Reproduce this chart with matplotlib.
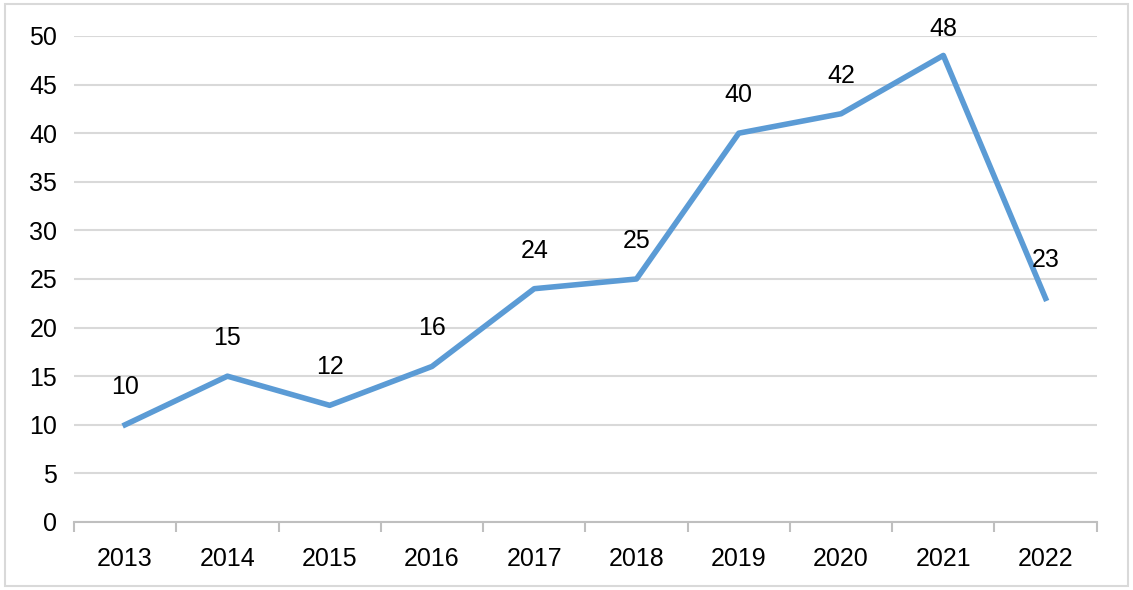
import matplotlib.pyplot as plt
from matplotlib.patches import Rectangle
import numpy as np

years = ["2013", "2014", "2015", "2016", "2017", "2018", "2019", "2020", "2021", "2022"]
counts = [10, 15, 12, 16, 24, 25, 40, 42, 48, 23]

plt.rcParams["font.family"] = ["Liberation Sans", "DejaVu Sans"]

fig = plt.figure(figsize=(11.33, 5.90), dpi=100)
ax = fig.add_axes([0.0653, 0.1153, 0.9027, 0.8237])

x = np.arange(len(years))
ax.plot(x, counts, color="#5B9BD5", linewidth=4, solid_joinstyle="round", zorder=3)

ax.set_xlim(-0.5, len(years) - 0.5)
ax.set_ylim(0, 50)

# labels sit ~38px above the point, but are kept inside the chart area like Excel does
top_px = fig.bbox.height - 29
for xi, v in zip(x, counts):
    px, py = ax.transData.transform((xi, v))
    ly = min(py + 38, top_px)
    ax.annotate(str(v), (xi, v), xytext=(0, (ly - py) * 72 / fig.dpi), textcoords="offset points",
                ha="center", va="center", fontsize=18, color="black")

ax.set_yticks(range(0, 51, 5))
ax.set_xticks(x)
ax.set_xticklabels(years)
ax.set_xticks(np.arange(-0.5, len(years)), minor=True)
ax.tick_params(axis="x", which="major", length=0, pad=18, labelsize=18)
ax.tick_params(axis="x", which="minor", length=7, width=1.5, color="#BFBFBF")
ax.tick_params(axis="y", length=0, pad=12, labelsize=18)
ax.grid(axis="y", color="#D9D9D9", linewidth=1.5)
ax.set_axisbelow(True)
for s in ["top", "right", "left"]:
    ax.spines[s].set_visible(False)
ax.spines["bottom"].set_color("#BFBFBF")
ax.spines["bottom"].set_linewidth(1.5)

fig.patches.append(Rectangle((0.004, 0.006), 0.992, 0.988, transform=fig.transFigure,
                             fill=False, edgecolor="#D9D9D9", linewidth=1.5))

fig.savefig("out.png", dpi=100)
